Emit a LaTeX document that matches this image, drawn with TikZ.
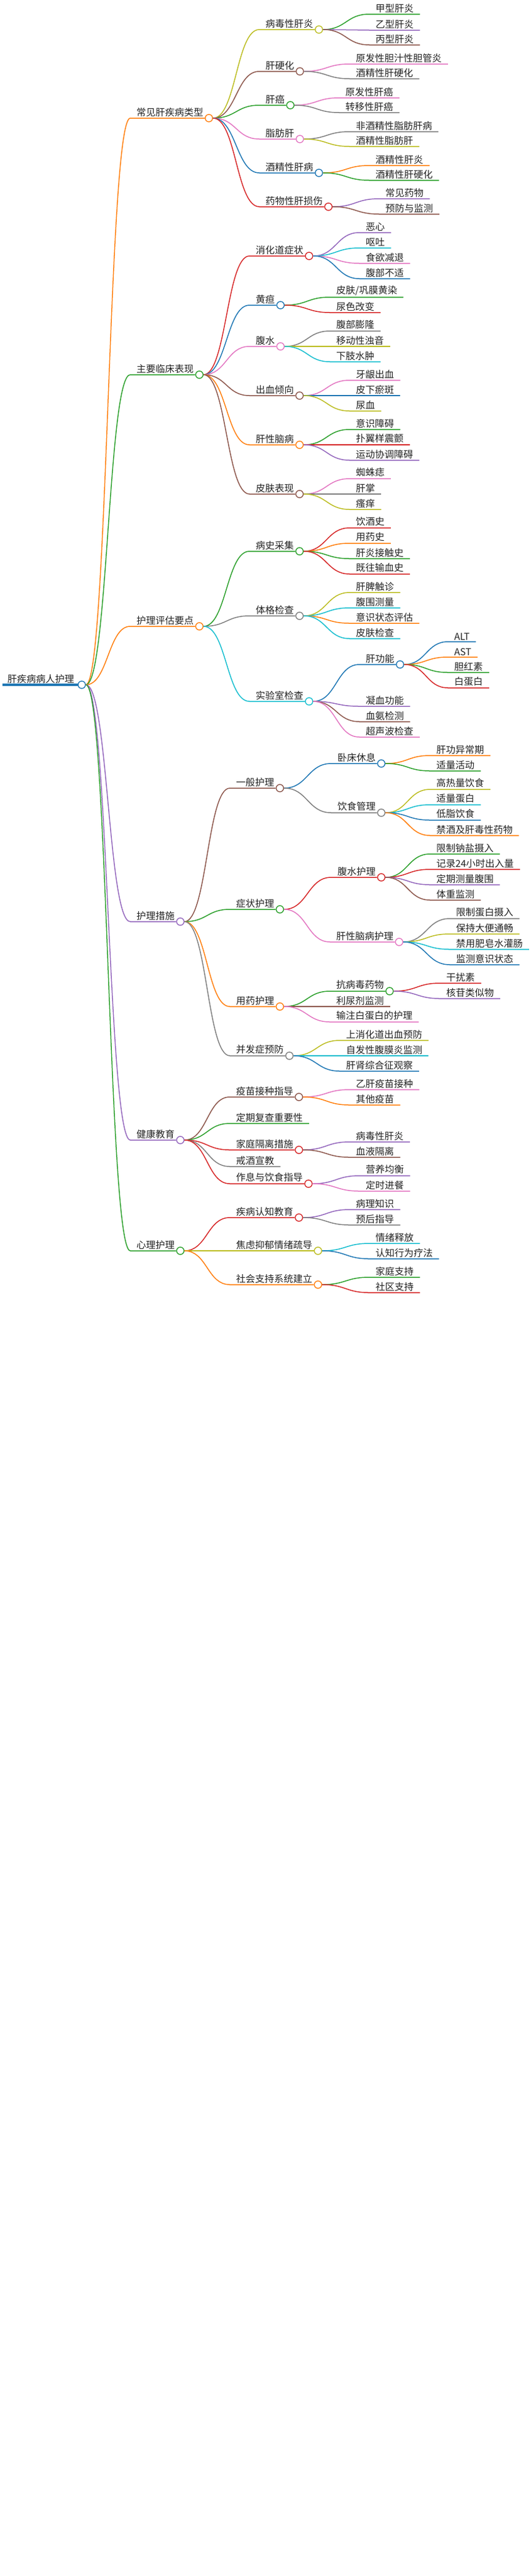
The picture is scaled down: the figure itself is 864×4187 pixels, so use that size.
\documentclass[tikz,border=0pt]{standalone}
\usepackage{fontspec}
\setmainfont{Noto Sans CJK SC}
\usetikzlibrary{calc}
\definecolor{cO}{HTML}{FF7F0E}
\definecolor{cG}{HTML}{2CA02C}
\definecolor{cP}{HTML}{9467BD}
\definecolor{cBr}{HTML}{8C564B}
\definecolor{cPk}{HTML}{E377C2}
\definecolor{cGr}{HTML}{7F7F7F}
\definecolor{cOl}{HTML}{BCBD22}
\definecolor{cC}{HTML}{17BECF}
\definecolor{cB}{HTML}{1F77B4}
\definecolor{cR}{HTML}{D62728}
\definecolor{txt}{HTML}{222222}
\tikzset{
 lbl/.style={inner xsep=0pt,inner ysep=2.5pt,text=txt,font=\fontsize{15.5}{18}\selectfont},
 dot/.style={circle,minimum size=12pt,inner sep=0pt,fill=white,line width=1.4pt},
 edge/.style={line width=1.5pt}
}
\newcommand\midn[6]{%
 \coordinate (e) at (#3,-#4);
 \node[lbl,anchor=south west] (#2t) at ({#3+10},-#4) {#6};
 \node[dot,draw=#5] (#2) at ($(#2t.south east)+(9,0)$) {};
 \coordinate (m) at ($(#1.east)!.5!(e)$);
 \draw[edge,draw=#5] (#1.east) .. controls (m|-#1.east) and (m|-e) .. (e) -- (#2.west);
}
\newcommand\leafn[6]{%
 \coordinate (e) at (#3,-#4);
 \node[lbl,anchor=south west] (#2) at ({#3+10},-#4) {#6};
 \coordinate (m) at ($(#1.east)!.5!(e)$);
 \draw[edge,draw=#5] (#1.east) .. controls (m|-#1.east) and (m|-e) .. (e) -- ($(#2.south east)+(10,0)$);
}
\begin{document}
\begin{tikzpicture}[x=1pt,y=1pt]
\useasboundingbox (0,0) rectangle (864,-4187);
\node[lbl,anchor=south west] (roott) at (12,-1113) {肝疾病病人护理};
\draw[cB,line width=3.5pt] (4,-1113) -- (127,-1113);
\node[dot,draw=cB] (root) at (133,-1113) {};
% A
\midn{root}{A}{212}{192}{cO}{常见肝疾病类型}
\midn{A}{A1}{422}{48}{cOl}{病毒性肝炎}
\leafn{A1}{a11}{601}{23}{cG}{甲型肝炎}
\leafn{A1}{a12}{601}{49}{cP}{乙型肝炎}
\leafn{A1}{a13}{601}{73}{cBr}{丙型肝炎}
\midn{A}{A2}{422}{116}{cBr}{肝硬化}
\leafn{A2}{a21}{569}{104}{cPk}{原发性胆汁性胆管炎}
\leafn{A2}{a22}{569}{128}{cGr}{酒精性肝硬化}
\midn{A}{A3}{422}{171}{cG}{肝癌}
\leafn{A3}{a31}{552}{159}{cPk}{原发性肝癌}
\leafn{A3}{a32}{552}{183}{cGr}{转移性肝癌}
\midn{A}{A4}{422}{226}{cPk}{脂肪肝}
\leafn{A4}{a41}{569}{214}{cGr}{非酒精性脂肪肝病}
\leafn{A4}{a42}{569}{238}{cOl}{酒精性脂肪肝}
\midn{A}{A5}{422}{281}{cB}{酒精性肝病}
\leafn{A5}{a51}{601}{269}{cO}{酒精性肝炎}
\leafn{A5}{a52}{601}{293}{cG}{酒精性肝硬化}
\midn{A}{A6}{422}{336}{cR}{药物性肝损伤}
\leafn{A6}{a61}{617}{323}{cP}{常见药物}
\leafn{A6}{a62}{617}{348}{cBr}{预防与监测}
% B
\midn{root}{B}{212}{609}{cG}{主要临床表现}
\midn{B}{B1}{406}{416}{cR}{消化道症状}
\leafn{B1}{b11}{585}{378}{cP}{恶心}
\leafn{B1}{b12}{585}{403}{cC}{呕吐}
\leafn{B1}{b13}{585}{428}{cPk}{食欲减退}
\leafn{B1}{b14}{585}{453}{cB}{腹部不适}
\midn{B}{B2}{406}{496}{cB}{黄疸}
\leafn{B2}{b21}{537}{483}{cG}{皮肤/巩膜黄染}
\leafn{B2}{b22}{537}{508}{cR}{尿色改变}
\midn{B}{B3}{406}{563}{cPk}{腹水}
\leafn{B3}{b31}{537}{538}{cGr}{腹部膨隆}
\leafn{B3}{b32}{537}{563}{cOl}{移动性浊音}
\leafn{B3}{b33}{537}{588}{cC}{下肢水肿}
\midn{B}{B4}{406}{643}{cBr}{出血倾向}
\leafn{B4}{b41}{569}{618}{cPk}{牙龈出血}
\leafn{B4}{b42}{569}{643}{cB}{皮下瘀斑}
\leafn{B4}{b43}{569}{668}{cOl}{尿血}
\midn{B}{B5}{406}{723}{cO}{肝性脑病}
\leafn{B5}{b51}{569}{698}{cG}{意识障碍}
\leafn{B5}{b52}{569}{723}{cR}{扑翼样震颤}
\leafn{B5}{b53}{569}{748}{cP}{运动协调障碍}
\midn{B}{B6}{406}{803}{cBr}{皮肤表现}
\leafn{B6}{b61}{569}{778}{cPk}{蜘蛛痣}
\leafn{B6}{b62}{569}{803}{cGr}{肝掌}
\leafn{B6}{b63}{569}{828}{cOl}{瘙痒}
% C
\midn{root}{C}{212}{1018}{cO}{护理评估要点}
\midn{C}{C1}{406}{896}{cG}{病史采集}
\leafn{C1}{c11}{569}{858}{cR}{饮酒史}
\leafn{C1}{c12}{569}{883}{cO}{用药史}
\leafn{C1}{c13}{569}{908}{cG}{肝炎接触史}
\leafn{C1}{c14}{569}{933}{cR}{既往输血史}
\midn{C}{C2}{406}{1001}{cGr}{体格检查}
\leafn{C2}{c21}{569}{963}{cOl}{肝脾触诊}
\leafn{C2}{c22}{569}{988}{cC}{腹围测量}
\leafn{C2}{c23}{569}{1013}{cO}{意识状态评估}
\leafn{C2}{c24}{569}{1038}{cC}{皮肤检查}
\midn{C}{C3}{406}{1140}{cC}{实验室检查}
\midn{C3}{C31}{585}{1080}{cB}{肝功能}
\leafn{C31}{c311}{729}{1043}{cB}{ALT}
\leafn{C31}{c312}{729}{1068}{cO}{AST}
\leafn{C31}{c313}{729}{1093}{cG}{胆红素}
\leafn{C31}{c314}{729}{1118}{cR}{白蛋白}
\leafn{C3}{c32}{585}{1148}{cP}{凝血功能}
\leafn{C3}{c33}{585}{1173}{cBr}{血氨检测}
\leafn{C3}{c34}{585}{1198}{cPk}{超声波检查}
% D
\midn{root}{D}{212}{1498}{cP}{护理措施}
\midn{D}{D1}{374}{1281}{cBr}{一般护理}
\midn{D1}{D11}{539}{1241}{cB}{卧床休息}
\leafn{D11}{d111}{700}{1228}{cO}{肝功异常期}
\leafn{D11}{d112}{700}{1253}{cG}{适量活动}
\midn{D1}{D12}{539}{1321}{cGr}{饮食管理}
\leafn{D12}{d121}{700}{1283}{cOl}{高热量饮食}
\leafn{D12}{d122}{700}{1308}{cC}{适量蛋白}
\leafn{D12}{d123}{700}{1333}{cB}{低脂饮食}
\leafn{D12}{d124}{700}{1358}{cO}{禁酒及肝毒性药物}
\midn{D}{D2}{374}{1478}{cG}{症状护理}
\midn{D2}{D21}{539}{1426}{cR}{腹水护理}
\leafn{D21}{d211}{700}{1388}{cG}{限制钠盐摄入}
\leafn{D21}{d212}{700}{1413}{cR}{记录24小时出入量}
\leafn{D21}{d213}{700}{1438}{cP}{定期测量腹围}
\leafn{D21}{d214}{700}{1463}{cBr}{体重监测}
\midn{D2}{D22}{537}{1531}{cPk}{肝性脑病护理}
\leafn{D22}{d221}{732}{1493}{cGr}{限制蛋白摄入}
\leafn{D22}{d222}{732}{1518}{cOl}{保持大便通畅}
\leafn{D22}{d223}{732}{1543}{cC}{禁用肥皂水灌肠}
\leafn{D22}{d224}{732}{1568}{cB}{监测意识状态}
\midn{D}{D3}{374}{1636}{cO}{用药护理}
\midn{D3}{D31}{537}{1611}{cG}{抗病毒药物}
\leafn{D31}{d311}{716}{1598}{cR}{干扰素}
\leafn{D31}{d312}{716}{1623}{cP}{核苷类似物}
\leafn{D3}{d32}{537}{1636}{cBr}{利尿剂监测}
\leafn{D3}{d33}{537}{1661}{cPk}{输注白蛋白的护理}
\midn{D}{D4}{374}{1716}{cGr}{并发症预防}
\leafn{D4}{d41}{553}{1691}{cOl}{上消化道出血预防}
\leafn{D4}{d42}{553}{1716}{cC}{自发性腹膜炎监测}
\leafn{D4}{d43}{553}{1741}{cB}{肝肾综合征观察}
% E
\midn{root}{E}{212}{1853}{cP}{健康教育}
\midn{E}{E1}{374}{1783}{cBr}{疫苗接种指导}
\leafn{E1}{e11}{569}{1771}{cPk}{乙肝疫苗接种}
\leafn{E1}{e12}{569}{1796}{cO}{其他疫苗}
\leafn{E}{e2}{374}{1826}{cG}{定期复查重要性}
\midn{E}{E3}{374}{1869}{cR}{家庭隔离措施}
\leafn{E3}{e31}{569}{1856}{cP}{病毒性肝炎}
\leafn{E3}{e32}{569}{1881}{cBr}{血液隔离}
\leafn{E}{e4}{374}{1896}{cGr}{戒酒宣教}
\midn{E}{E5}{374}{1924}{cR}{作息与饮食指导}
\leafn{E5}{e51}{585}{1911}{cP}{营养均衡}
\leafn{E5}{e52}{585}{1936}{cPk}{定时进餐}
% F
\midn{root}{F}{212}{2033}{cG}{心理护理}
\midn{F}{F1}{374}{1979}{cR}{疾病认知教育}
\leafn{F1}{f11}{569}{1966}{cP}{病理知识}
\leafn{F1}{f12}{569}{1991}{cGr}{预后指导}
\midn{F}{F2}{374}{2033}{cOl}{焦虑抑郁情绪疏导}
\leafn{F2}{f21}{601}{2021}{cC}{情绪释放}
\leafn{F2}{f22}{601}{2046}{cB}{认知行为疗法}
\midn{F}{F3}{374}{2088}{cO}{社会支持系统建立}
\leafn{F3}{f31}{601}{2076}{cG}{家庭支持}
\leafn{F3}{f32}{601}{2101}{cR}{社区支持}
\end{tikzpicture}
\end{document}
